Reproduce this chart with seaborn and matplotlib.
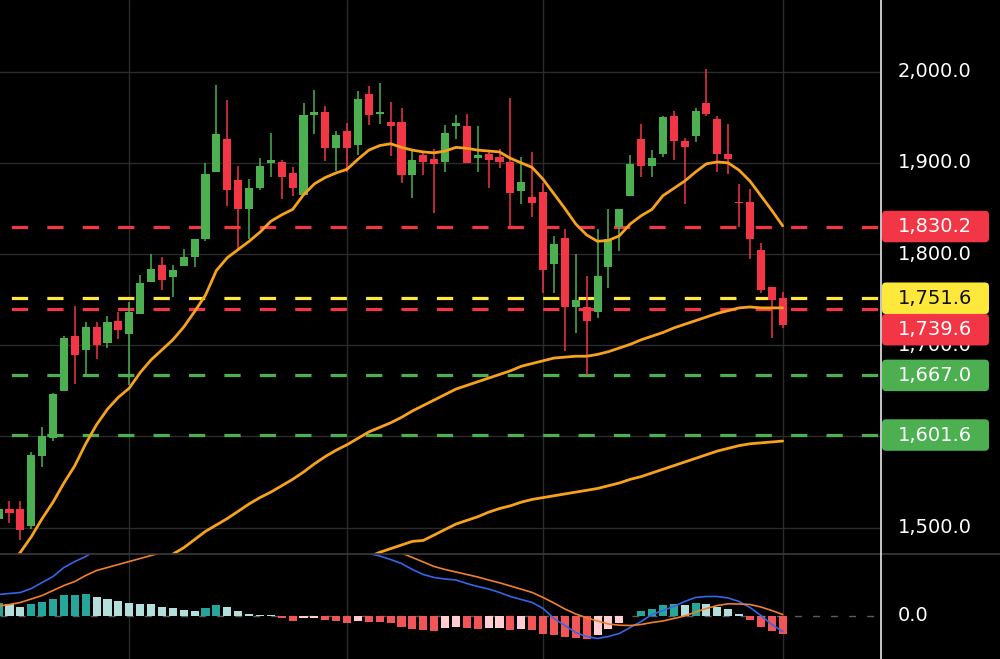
import numpy as np
import pandas as pd
import seaborn as sns
import matplotlib.pyplot as plt
import matplotlib.transforms as mtransforms
from matplotlib.patches import FancyBboxPatch
from matplotlib.lines import Line2D

# daily candles
opens = [1509, 1520, 1521, 1502, 1579, 1598, 1650, 1710, 1695, 1720,
         1702, 1727, 1712, 1734, 1769, 1788, 1775, 1787, 1797, 1817,
         1890, 1926, 1881, 1849, 1873, 1900, 1901, 1889, 1865, 1952,
         1956, 1916, 1935, 1920, 1976, 1954, 1945, 1945, 1887, 1909,
         1904, 1901, 1940, 1940, 1905, 1910, 1906, 1901, 1869, 1863,
         1868, 1789, 1818, 1742, 1742, 1736, 1786, 1830, 1864, 1926,
         1897, 1910, 1951, 1924, 1930, 1966, 1948, 1910, 1857, 1857,
         1804, 1764, 1752]
highs = [1523, 1529, 1529, 1583, 1610, 1648, 1710, 1743, 1725, 1725,
         1732, 1737, 1747, 1777, 1800, 1797, 1788, 1806, 1817, 1900,
         1985, 1969, 1897, 1882, 1905, 1933, 1903, 1895, 1966, 1980,
         1962, 1935, 1944, 1979, 1984, 1988, 1967, 1960, 1914, 1912,
         1915, 1941, 1953, 1954, 1940, 1914, 1915, 1971, 1907, 1912,
         1878, 1820, 1828, 1800, 1776, 1827, 1849, 1849, 1909, 1943,
         1914, 1951, 1957, 1927, 1960, 2003, 1951, 1943, 1877, 1871,
         1812, 1764, 1758]
lows = [1505, 1505, 1486, 1499, 1566, 1595, 1650, 1658, 1667, 1685,
        1697, 1707, 1656, 1734, 1769, 1761, 1753, 1787, 1786, 1814,
        1890, 1853, 1806, 1817, 1870, 1885, 1860, 1864, 1865, 1932,
        1902, 1891, 1890, 1909, 1942, 1943, 1908, 1878, 1862, 1887,
        1845, 1890, 1926, 1900, 1890, 1872, 1894, 1831, 1855, 1841,
        1757, 1757, 1694, 1714, 1667, 1730, 1763, 1803, 1864, 1884,
        1884, 1907, 1903, 1855, 1923, 1951, 1890, 1888, 1830, 1795,
        1757, 1708, 1719]
closes = [1520, 1516, 1497, 1580, 1601, 1647, 1708, 1689, 1720, 1700,
          1725, 1717, 1736, 1768, 1784, 1772, 1783, 1797, 1817, 1888,
          1932, 1870, 1849, 1872, 1897, 1903, 1885, 1872, 1953, 1956,
          1916, 1931, 1916, 1970, 1953, 1956, 1940, 1887, 1903, 1901,
          1899, 1933, 1944, 1900, 1909, 1903, 1901, 1867, 1879, 1856,
          1783, 1811, 1742, 1750, 1727, 1776, 1817, 1849, 1899, 1897,
          1905, 1950, 1924, 1917, 1957, 1954, 1910, 1904, 1856, 1816,
          1761, 1750, 1722]

# moving averages as drawn on the chart (nan = not on screen yet)
ma20 = [1445, 1458, 1473, 1490, 1510, 1528, 1549, 1568, 1592, 1613,
        1630, 1643, 1653, 1670, 1684, 1695, 1706, 1720, 1737, 1755,
        1782, 1796, 1805, 1814, 1824, 1836, 1843, 1849, 1865, 1877,
        1884, 1889, 1893, 1904, 1914, 1919, 1921, 1917, 1914, 1912,
        1911, 1913, 1917, 1916, 1914, 1913, 1912, 1905, 1900, 1895,
        1882, 1866, 1850, 1833, 1821, 1814, 1815, 1820, 1833, 1842,
        1849, 1864, 1872, 1880, 1890, 1899, 1901, 1900, 1892, 1880,
        1864, 1848, 1831]
ma60 = [np.nan] * 15 + [
        1462, 1471, 1478, 1487, 1496, 1503, 1510, 1518, 1526, 1533,
        1539, 1546, 1553, 1561, 1570, 1578, 1585, 1591, 1598, 1605,
        1610, 1615, 1621, 1628, 1634, 1640, 1646, 1652, 1656, 1660,
        1664, 1668, 1672, 1677, 1680, 1683, 1686, 1687, 1688, 1688,
        1690, 1693, 1697, 1701, 1706, 1710, 1714, 1719, 1723, 1727,
        1731, 1735, 1738, 1741, 1742, 1741, 1741, 1741]
ma120 = [np.nan] * 34 + [
         1468, 1473, 1477, 1481, 1485, 1486, 1492, 1498, 1504, 1508,
         1512, 1517, 1521, 1524, 1528, 1531, 1533, 1535, 1537, 1539,
         1541, 1543, 1546, 1549, 1553, 1556, 1560, 1564, 1568, 1572,
         1576, 1580, 1584, 1587, 1590, 1592, 1593, 1594, 1595]

# MACD pane
dif = [21, 22, 23, 27, 33, 39, 48, 54, 59, 66,
       72, 78, 82, 86, 88, 90, 91, 92, 94, 98,
       102, 104, 103, 101, 100, 99, 97, 95, 96, 95,
       92, 88, 83, 74, 62, 59.5, 56, 52, 46, 41,
       38, 36.5, 35.5, 32, 29, 26.5, 23, 19, 16, 13,
       7, -3, -10, -17, -21, -23, -21, -18, -12, -6,
       1, 5, 9, 14, 18, 19, 19, 17.5, 14, 8,
       0, -9, -16]
dea = [9.3, 11, 13, 16.5, 20, 25, 30, 34, 40, 45,
       48, 51, 54, 57, 60, 63, 66, 69, 72, 75,
       78, 80, 82, 84, 85, 86, 87, 87.5, 88, 88,
       87, 85, 82, 79, 75, 71, 66.5, 62.5, 58, 53.5,
       49, 46, 43.5, 41, 38.5, 35.5, 32.7, 29.5, 26.3, 23,
       18, 12.5, 6.5, 1.5, -2.3, -5.5, -8.5, -9.7, -10, -9,
       -7, -5.5, -3, -0.5, 3.5, 7, 10, 11.7, 11.5, 11,
       8.5, 5, 1]
hist = [12.3, 11.3, 9, 11.7, 14, 16.7, 20.3, 20.5, 21.3, 19,
        17, 14.7, 12.3, 12.0, 11.7, 9, 7.3, 5.7, 5, 7.3,
        10.7, 8.3, 4.7, 1.7, 0.8, 0.6, -2.7, -5.3, -2.7, -2,
        -4.3, -5, -7, -5, -6, -6.3, -7.7, -11.7, -13.7, -14.3,
        -15, -12.3, -11, -12.9, -13.3, -12.7, -12.3, -14, -13.3, -14,
        -18.3, -19, -21.7, -22.5, -23.5, -19.3, -13.3, -7.7, -0.6, 4.3,
        6.7, 10.7, 11.7, 10.7, 12.3, 12.0, 9, 6.3, 1.7, -4.3,
        -11, -15, -18.3]

levels = [1830.2, 1751.6, 1739.6, 1667.0, 1601.6]
level_kinds = ['red', 'yellow', 'red', 'green', 'green']
price_ticks = [2000, 1900, 1800, 1700, 1600, 1500]
month_starts = [12, 32, 50, 72]

GREEN = '#4caf50'
RED = '#f23645'
YELLOW = '#fde83b'
ORANGE = '#f7a21b'
level_colors = {'red': RED, 'yellow': YELLOW, 'green': GREEN}
label_text = {'red': 'white', 'yellow': '#111111', 'green': 'white'}

sns.set_theme(style='dark', rc={'axes.facecolor': 'black',
                                'figure.facecolor': 'black',
                                'grid.color': '#2b2b2b',
                                'grid.linewidth': 1.0})
plt.rcParams['font.family'] = ['DejaVu Sans']
plt.rcParams['lines.scale_dashes'] = False

df = pd.DataFrame({'open': opens, 'high': highs, 'low': lows, 'close': closes,
                   'ma20': ma20, 'ma60': ma60, 'ma120': ma120,
                   'dif': dif, 'dea': dea, 'macd_hist': hist})
df['idx'] = np.arange(len(df))
df['up'] = df['close'] >= df['open']

W, H = 1000, 659
fig = plt.figure(figsize=(W / 100, H / 100), dpi=100)
split = (H - 553.5) / H
ax = fig.add_axes([0, split, 0.881, 1 - split])
axm = fig.add_axes([0, 0, 0.881, split], sharex=ax)

# candles
cols = np.where(df['up'], GREEN, RED)
ax.vlines(df['idx'], df['low'], df['high'], colors=cols, linewidth=1.1, zorder=3)
body_lo = np.minimum(df['open'], df['close'])
body_h = np.maximum((df['close'] - df['open']).abs(), 1.0)
ax.bar(df['idx'], body_h, bottom=body_lo, width=0.74, color=cols, linewidth=0, zorder=4)

for col in ['ma20', 'ma60', 'ma120']:
    sns.lineplot(data=df.dropna(subset=[col]), x='idx', y=col, ax=ax, color=ORANGE,
                 linewidth=2.0, errorbar=None, zorder=5)

for lvl, kind in zip(levels, level_kinds):
    ax.axhline(lvl, color=level_colors[kind], linewidth=2.3,
               linestyle=(17.3, (11.7, 13.8)), zorder=2)

ax.set_xlim(0.13, 81.03)
ax.set_ylim(1471.7, 2078.6)
ax.set_yticks(price_ticks)
ax.set_xticks(month_starts)
ax.grid(True)
ax.tick_params(labelleft=False, labelbottom=False, length=0)
ax.set_xlabel('')
ax.set_ylabel('')
for s in ax.spines.values():
    s.set_visible(False)

blend = mtransforms.blended_transform_factory(ax.transAxes, ax.transData)
for t in price_ticks:
    ax.text(898 / 881, t, f'{t:,.1f}', transform=blend, color='white', fontsize=14,
            va='center', ha='left', clip_on=False)

# MACD
hcols = []
prev = None
for h in hist:
    if h >= 0:
        hcols.append('#26a69a' if prev is None or h > prev else '#b2dfdb')
    else:
        hcols.append('#f25555' if prev is None or h < prev else '#ffcdd2')
    prev = h
axm.axhline(0, color='#5c5c5c', linewidth=1.0, linestyle=(0, (5, 8)), zorder=1)
axm.bar(df['idx'], df['macd_hist'], width=0.74, color=hcols, linewidth=0, zorder=3)
sns.lineplot(data=df, x='idx', y='dif', ax=axm, color='#3566e8', linewidth=1.2,
             errorbar=None, zorder=4)
sns.lineplot(data=df, x='idx', y='dea', ax=axm, color='#f0802e', linewidth=1.2,
             errorbar=None, zorder=4)
axm.set_ylim(-43.5, 62)
axm.set_yticks([])
axm.set_xticks(month_starts)
axm.grid(True, axis='x')
axm.tick_params(labelleft=False, labelbottom=False, length=0)
axm.set_xlabel('')
axm.set_ylabel('')
for s in axm.spines.values():
    s.set_visible(False)
axm.text(898 / 881, 0, '0.0', transform=mtransforms.blended_transform_factory(axm.transAxes, axm.transData),
         color='white', fontsize=14, va='center', ha='left', clip_on=False)

# pane separator and price-axis border
fig.add_artist(Line2D([0, 1], [split, split], transform=fig.transFigure,
                      color='#3a3a3a', linewidth=1.2))
fig.add_artist(Line2D([0.881, 0.881], [0, 1], transform=fig.transFigure,
                      color='#e8e8e8', linewidth=1.2))

# level labels on the price axis, pushed down when they would overlap
box_h = 31.5
prev_c = None
order = sorted(range(len(levels)), key=lambda k: -levels[k])
for k in order:
    lvl, kind = levels[k], level_kinds[k]
    c = ax.transData.transform((0, lvl))[1]
    if prev_c is not None and prev_c - c < box_h:
        c = prev_c - box_h
    prev_c = c
    box = FancyBboxPatch((882, c - box_h / 2), 107, box_h,
                         boxstyle='round,pad=0,rounding_size=4',
                         transform=mtransforms.IdentityTransform(),
                         facecolor=level_colors[kind], edgecolor='none', zorder=6)
    fig.add_artist(box)
    fig.text(898 / W, c / H, f'{lvl:,.1f}', color=label_text[kind], fontsize=14,
             va='center', ha='left', zorder=7)

fig.savefig('out.png', dpi=100, facecolor='black')
